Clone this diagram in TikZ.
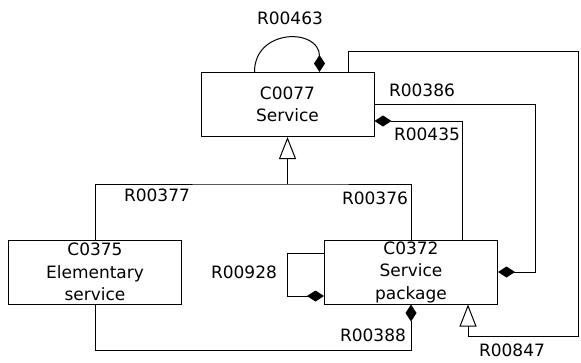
\documentclass[tikz,border=0pt]{standalone}
\usepackage{fontspec}
\setmainfont{DejaVu Sans}
\usetikzlibrary{arrows.meta}
\begin{document}
\begin{tikzpicture}[x=1pt,y=-1pt,line width=1pt,
    cls/.style={draw,minimum width=173pt,minimum height=64pt,inner sep=0pt,
        align=center,font=\fontsize{17}{22.5}\selectfont},
    lbl/.style={inner sep=0pt,font=\fontsize{17}{19}\selectfont},
    comp/.style={-{Diamond[length=17pt,width=11pt]}},
    gen/.style={-{Triangle[open,length=22pt,width=17pt]}}]
    \useasboundingbox (0,0) rectangle (581,362);

    % Классы
    \node[cls] (srv) at (287.5,104.5) {C0077\\Service};
    \node[cls] (elem) at (95,272) {C0375\\Elementary\\service};
    \node[cls] (pkg) at (411,272) {C0372\\Service\\package};

    % Наследование от C0077
    \coordinate (junc) at (287.5,184);
    \draw (elem.north) |- (junc) -| (pkg.north);
    \draw[gen] (junc) -- (srv.south);
    \node[lbl] (r377) at (157,195) {R00377};
    \node[lbl] (r376) at (375,198) {R00376};

    % Петля над C0077
    \draw[comp] ([xshift=54pt]srv.north west) .. controls +(0,-44) and +(0,-44) .. ([xshift=119pt]srv.north west);
    \node[lbl] (r463) at (290,18) {R00463};

    % Связи справа
    \coordinate (c386) at ([xshift=161pt]srv.east);
    \draw[comp] (srv.east) -- (c386) |- (pkg.east);
    \node[lbl] (r386) at (422,90) {R00386};

    \draw[comp] ([xshift=51pt]pkg.north) |- ([yshift=-16.5pt]srv.east);
    \node[lbl] (r435) at (427,134) {R00435};

    % Внешний контур к C0372
    \coordinate (ne) at (578,51);
    \coordinate (se) at (578,336);
    \draw[gen] ([xshift=60.5pt]srv.north) |- (ne) -- (se) -| ([xshift=57pt]pkg.south);
    \node[lbl] (r847) at (512,350) {R00847};

    % Петля у C0372
    \draw[comp] ([yshift=19pt]pkg.west) -| ([xshift=-37pt,yshift=-24pt]pkg.west) -- ([yshift=-24pt]pkg.west);
    \node[lbl] (r928) at (244,272) {R00928};

    % От C0375 к C0372 снизу
    \draw[comp] (elem.south) |- ([yshift=-46pt]pkg.south) -- (pkg.south);
    \node[lbl] (r388) at (373,335) {R00388};
\end{tikzpicture}
\end{document}
